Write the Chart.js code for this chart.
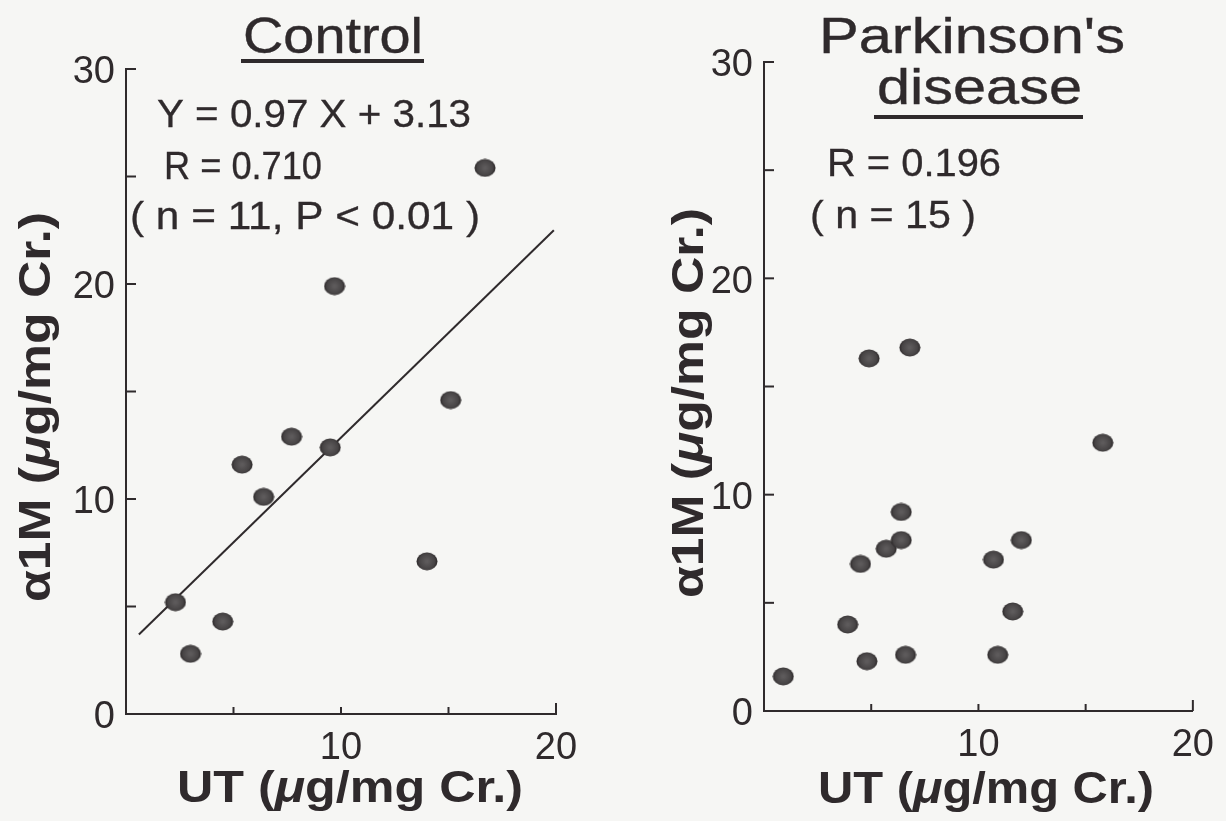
<!DOCTYPE html>
<html>
<head>
<meta charset="utf-8">
<script src="https://cdn.jsdelivr.net/npm/chart.js@4"></script>
<style>
    body { margin: 0; background: #f6f6f4; }
    canvas { position: absolute; left: 0; top: 0; }
</style>
</head>
<body>
<canvas id="controlChart" width="1226" height="821"></canvas>
<canvas id="pdChart" width="1226" height="821"></canvas>
<script>
// data
let xTicks = [0, 5, 10, 15, 20];
let yTicks = [0, 5, 10, 15, 20, 25, 30];

// Control (n = 11)
let controlUT = [2.3, 3.0, 4.5, 5.4, 6.4, 7.7, 9.5, 14.0, 15.1, 9.7, 16.7];
let controlA1M = [5.2, 2.8, 4.3, 11.6, 10.1, 12.9, 12.4, 7.1, 14.6, 19.9, 25.4];
// regression line ends, Y = 0.97 X + 3.13
let fitUT = [0.6, 19.9];
let fitA1M = [3.7, 22.5];

// Parkinson's disease (n = 15)
let pdUT = [0.9, 3.9, 4.8, 4.5, 5.7, 6.4, 6.4, 6.6, 10.7, 10.9, 11.6, 12.0, 15.8, 4.9, 6.8];
let pdA1M = [1.6, 4.0, 2.3, 6.8, 7.5, 7.9, 9.2, 2.6, 7.0, 2.6, 4.6, 7.9, 12.4, 16.3, 16.8];

const INK = '#2f2a2c';
const FONT = '"Liberation Sans", Arial, Helvetica, sans-serif';

Chart.defaults.font.family = FONT;
Chart.defaults.color = INK;

// flat dark dot, slightly wider than tall like the scan
function makeDot() {
    let c = document.createElement('canvas');
    c.width = 22; c.height = 19;
    let g = c.getContext('2d');
    let grad = g.createRadialGradient(11, 9.5, 1, 11, 9.5, 10.5);
    grad.addColorStop(0, '#5e5b5c');
    grad.addColorStop(0.7, '#474445');
    grad.addColorStop(1, '#2b2728');
    g.fillStyle = grad;
    g.beginPath();
    g.ellipse(11, 9.5, 10.5, 9, 0, 0, Math.PI * 2);
    g.fill();
    return c;
}
let dot = makeDot();

function toPoints(xs, ys) {
    return xs.map((x, i) => ({x: x, y: ys[i]}));
}

// text drawn with a horizontal stretch so it fills the width seen in the figure
function drawRuns(ctx, item) {
    ctx.save();
    ctx.fillStyle = INK;
    ctx.strokeStyle = INK;
    ctx.lineWidth = item.thick || 0;
    ctx.textBaseline = 'alphabetic';
    ctx.textAlign = 'left';
    let natural = 0;
    item.runs.forEach(r => { ctx.font = r[1]; natural += ctx.measureText(r[0]).width; });
    ctx.translate(item.x, item.y);
    if (item.rot) ctx.rotate(-Math.PI / 2);
    ctx.scale(item.w / natural, 1);
    let pos = 0;
    item.runs.forEach(r => {
        ctx.font = r[1];
        ctx.fillText(r[0], pos, 0);
        if (item.thick) ctx.strokeText(r[0], pos, 0);
        pos += ctx.measureText(r[0]).width;
    });
    ctx.restore();
}

const textPlugin = (items, lines) => ({
    id: 'figureText',
    afterDraw(chart) {
        let ctx = chart.ctx;
        let area = chart.chartArea;
        let xs = chart.scales.x, ys = chart.scales.y;
        // tick marks point inwards
        ctx.save();
        ctx.strokeStyle = INK;
        ctx.lineWidth = 2;
        ys.ticks.forEach(t => {
            if (t.value === 0) return;
            let p = ys.getPixelForValue(t.value);
            ctx.beginPath(); ctx.moveTo(area.left, p); ctx.lineTo(area.left + 10, p); ctx.stroke();
        });
        xs.ticks.forEach(t => {
            if (t.value === 0) return;
            let p = xs.getPixelForValue(t.value);
            ctx.beginPath(); ctx.moveTo(p, area.bottom); ctx.lineTo(p, area.bottom - (t.value === 20 ? 11 : 7)); ctx.stroke();
        });
        ctx.fillStyle = INK;
        lines.forEach(r => ctx.fillRect(r[0], r[1], r[2], r[3]));
        ctx.restore();
        items.forEach(it => drawRuns(ctx, it));
    }
});

function axisTitleRuns(first) {
    return [[first, 'bold 44px ' + FONT], ['\u03bc', 'italic bold 44px ' + FONT], ['g/mg Cr.)', 'bold 44px ' + FONT]];
}

function makeChart(id, area, datasets, items, lines) {
    const W = 60, H = 60;
    return new Chart(document.getElementById(id), {
        type: 'scatter',
        data: {datasets: datasets},
        options: {
            responsive: false,
            animation: false,
            layout: {padding: {left: area.l - W, right: 1226 - area.r, top: area.t, bottom: 821 - area.b - H}},
            plugins: {legend: {display: false}, tooltip: {enabled: false}},
            scales: {
                x: {
                    type: 'linear', min: xTicks[0], max: xTicks[xTicks.length - 1],
                    afterBuildTicks: s => { s.ticks = xTicks.map(v => ({value: v})); },
                    grid: {display: false, drawTicks: false},
                    border: {color: INK, width: 2},
                    ticks: {padding: 12, font: {size: 38}, color: INK, autoSkip: false,
                        callback: v => (v > 0 && v % 10 === 0) ? v : ''},
                    afterFit: s => { s.height = H; }
                },
                y: {
                    type: 'linear', min: yTicks[0], max: yTicks[yTicks.length - 1],
                    afterBuildTicks: s => { s.ticks = yTicks.map(v => ({value: v})); },
                    grid: {display: false, drawTicks: false},
                    border: {color: INK, width: 2},
                    ticks: {padding: 11, labelOffset: 4, font: {size: 38}, color: INK, autoSkip: false,
                        callback: v => v % 10 === 0 ? v : ''},
                    afterFit: s => { s.width = W; }
                }
            }
        },
        plugins: [textPlugin(items, lines)]
    });
}

// Control panel
makeChart('controlChart', {l: 126, r: 556, t: 69, b: 714}, [
    {data: toPoints(controlUT, controlA1M), pointStyle: dot, pointRadius: 10, pointHoverRadius: 10},
    {data: toPoints(fitUT, fitA1M), showLine: true, pointRadius: 0, borderColor: INK, borderWidth: 2}
], [
    {runs: [['Control', '50px ' + FONT]], x: 243, y: 53, w: 180, thick: 0.4},
    {runs: [['Y = 0.97 X + 3.13', '39px ' + FONT]], x: 157, y: 127, w: 314, thick: 0.3},
    {runs: [['R = 0.710', '39px ' + FONT]], x: 164, y: 179, w: 158, thick: 0.3},
    {runs: [['( n = 11, P < 0.01 )', '39px ' + FONT]], x: 130, y: 229, w: 350, thick: 0.3},
    {runs: axisTitleRuns('UT ('), x: 177, y: 802, w: 346},
    {runs: axisTitleRuns('\u03b11M ('), x: 50, y: 602, w: 390, rot: true}
], [[241, 59, 183, 4]]);

// Parkinson's disease panel
makeChart('pdChart', {l: 764, r: 1198, t: 62, b: 711}, [
    {data: toPoints(pdUT, pdA1M), pointStyle: dot, pointRadius: 10, pointHoverRadius: 10}
], [
    {runs: [["Parkinson's", '50px ' + FONT]], x: 819, y: 53, w: 306, thick: 0.4},
    {runs: [['disease', '50px ' + FONT]], x: 877, y: 104, w: 205, thick: 0.4},
    {runs: [['R = 0.196', '39px ' + FONT]], x: 827, y: 176, w: 174, thick: 0.3},
    {runs: [['( n = 15 )', '39px ' + FONT]], x: 810, y: 228, w: 166, thick: 0.3},
    {runs: axisTitleRuns('UT ('), x: 818, y: 803, w: 336},
    {runs: axisTitleRuns('\u03b11M ('), x: 703, y: 598, w: 390, rot: true}
], [[874, 115, 209, 4]]);
</script>
</body>
</html>
